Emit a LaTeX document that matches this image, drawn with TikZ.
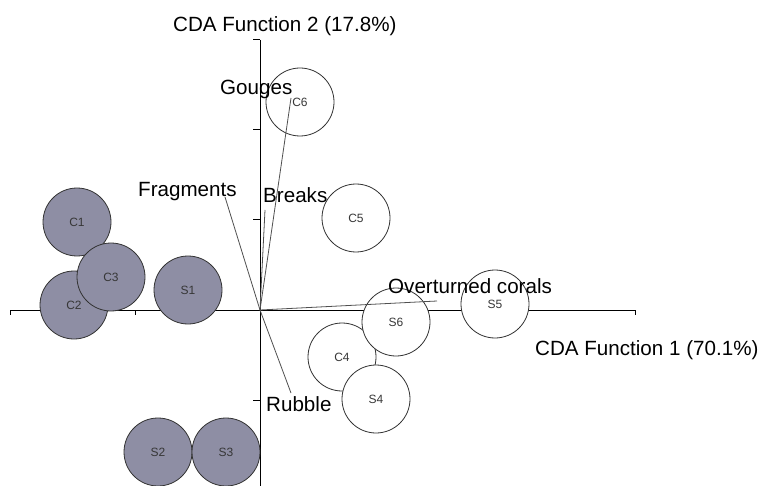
\documentclass[tikz,border=0pt]{standalone}
\usepackage{fontspec}
\setmainfont{Liberation Sans}
\definecolor{grpfill}{RGB}{142,142,164}
\definecolor{circline}{RGB}{50,50,50}
\definecolor{veccol}{RGB}{80,80,80}
\definecolor{lbltext}{RGB}{55,55,55}
\begin{document}
\begin{tikzpicture}[x=1pt,y=-1pt,
  grpc/.style={circle,draw=circline,line width=0.8pt,fill=grpfill,minimum size=68pt,inner sep=0pt,text=lbltext,font=\fontsize{12}{13}\selectfont},
  grpw/.style={circle,draw=circline,line width=0.8pt,fill=white,minimum size=68pt,inner sep=0pt,text=lbltext,font=\fontsize{12}{13}\selectfont},
  axisline/.style={black,line width=1pt},
  vecline/.style={veccol,line width=0.8pt},
  biglabel/.style={anchor=base west,inner sep=0pt,font=\fontsize{20.6}{24}\selectfont,text=black}]
\useasboundingbox (0,0) rectangle (762,486);
\fill[white] (0,0) rectangle (762,486);
% axes
\coordinate (o) at (260,310);
\coordinate (xl) at (10,310);
\coordinate (xr) at (635,310);
\coordinate (yt) at (260,40);
\coordinate (yb) at (260,492);
\draw[axisline] (xl) -- (xr);
\draw[axisline] (yt) -- (yb);
\foreach \xx in {10,135,260,385,510,635} \draw[axisline] (\xx,310) -- (\xx,315);
\foreach \yy in {40,130,220,310,400,490} \draw[axisline] (253,\yy) -- (260,\yy);
% circles
\node[grpc] (C1) at (77,222) {C1};
\node[grpc] (C2) at (74,305) {C2};
\node[grpc] (C3) at (111,277) {C3};
\node[grpc] (S1) at (188,290) {S1};
\node[grpc] (S2) at (158,452) {S2};
\node[grpc] (S3) at (226,452) {S3};
\node[grpw] (C6) at (300,102) {C6};
\node[grpw] (C5) at (356,218) {C5};
\node[grpw] (C4) at (342,357) {C4};
\node[grpw] (S6) at (396,322) {S6};
\node[grpw] (S4) at (376,399) {S4};
\node[grpw] (S5) at (495,304) {S5};
% vectors
\coordinate (vG) at (291,98);
\coordinate (vF) at (225,197);
\coordinate (vB) at (265,210);
\coordinate (vO) at (437,301);
\coordinate (vR) at (291,393);
\draw[vecline] (o) -- (vG);
\draw[vecline] (o) -- (vF);
\draw[vecline] (o) -- (vB);
\draw[vecline] (o) -- (vO);
\draw[vecline] (o) -- (vR);
% labels
\node[biglabel] (ly) at (173,32) {CDA Function 2 (17.8\%)};
\node[biglabel] (lx) at (535,355) {CDA Function 1 (70.1\%)};
\node[biglabel] (lG) at (220,95) {Gouges};
\node[biglabel] (lF) at (138,197) {Fragments};
\node[biglabel] (lB) at (263,203) {Breaks};
\node[biglabel] (lO) at (388,293) {Overturned corals};
\node[biglabel] (lR) at (266,411) {Rubble};
\end{tikzpicture}
\end{document}
